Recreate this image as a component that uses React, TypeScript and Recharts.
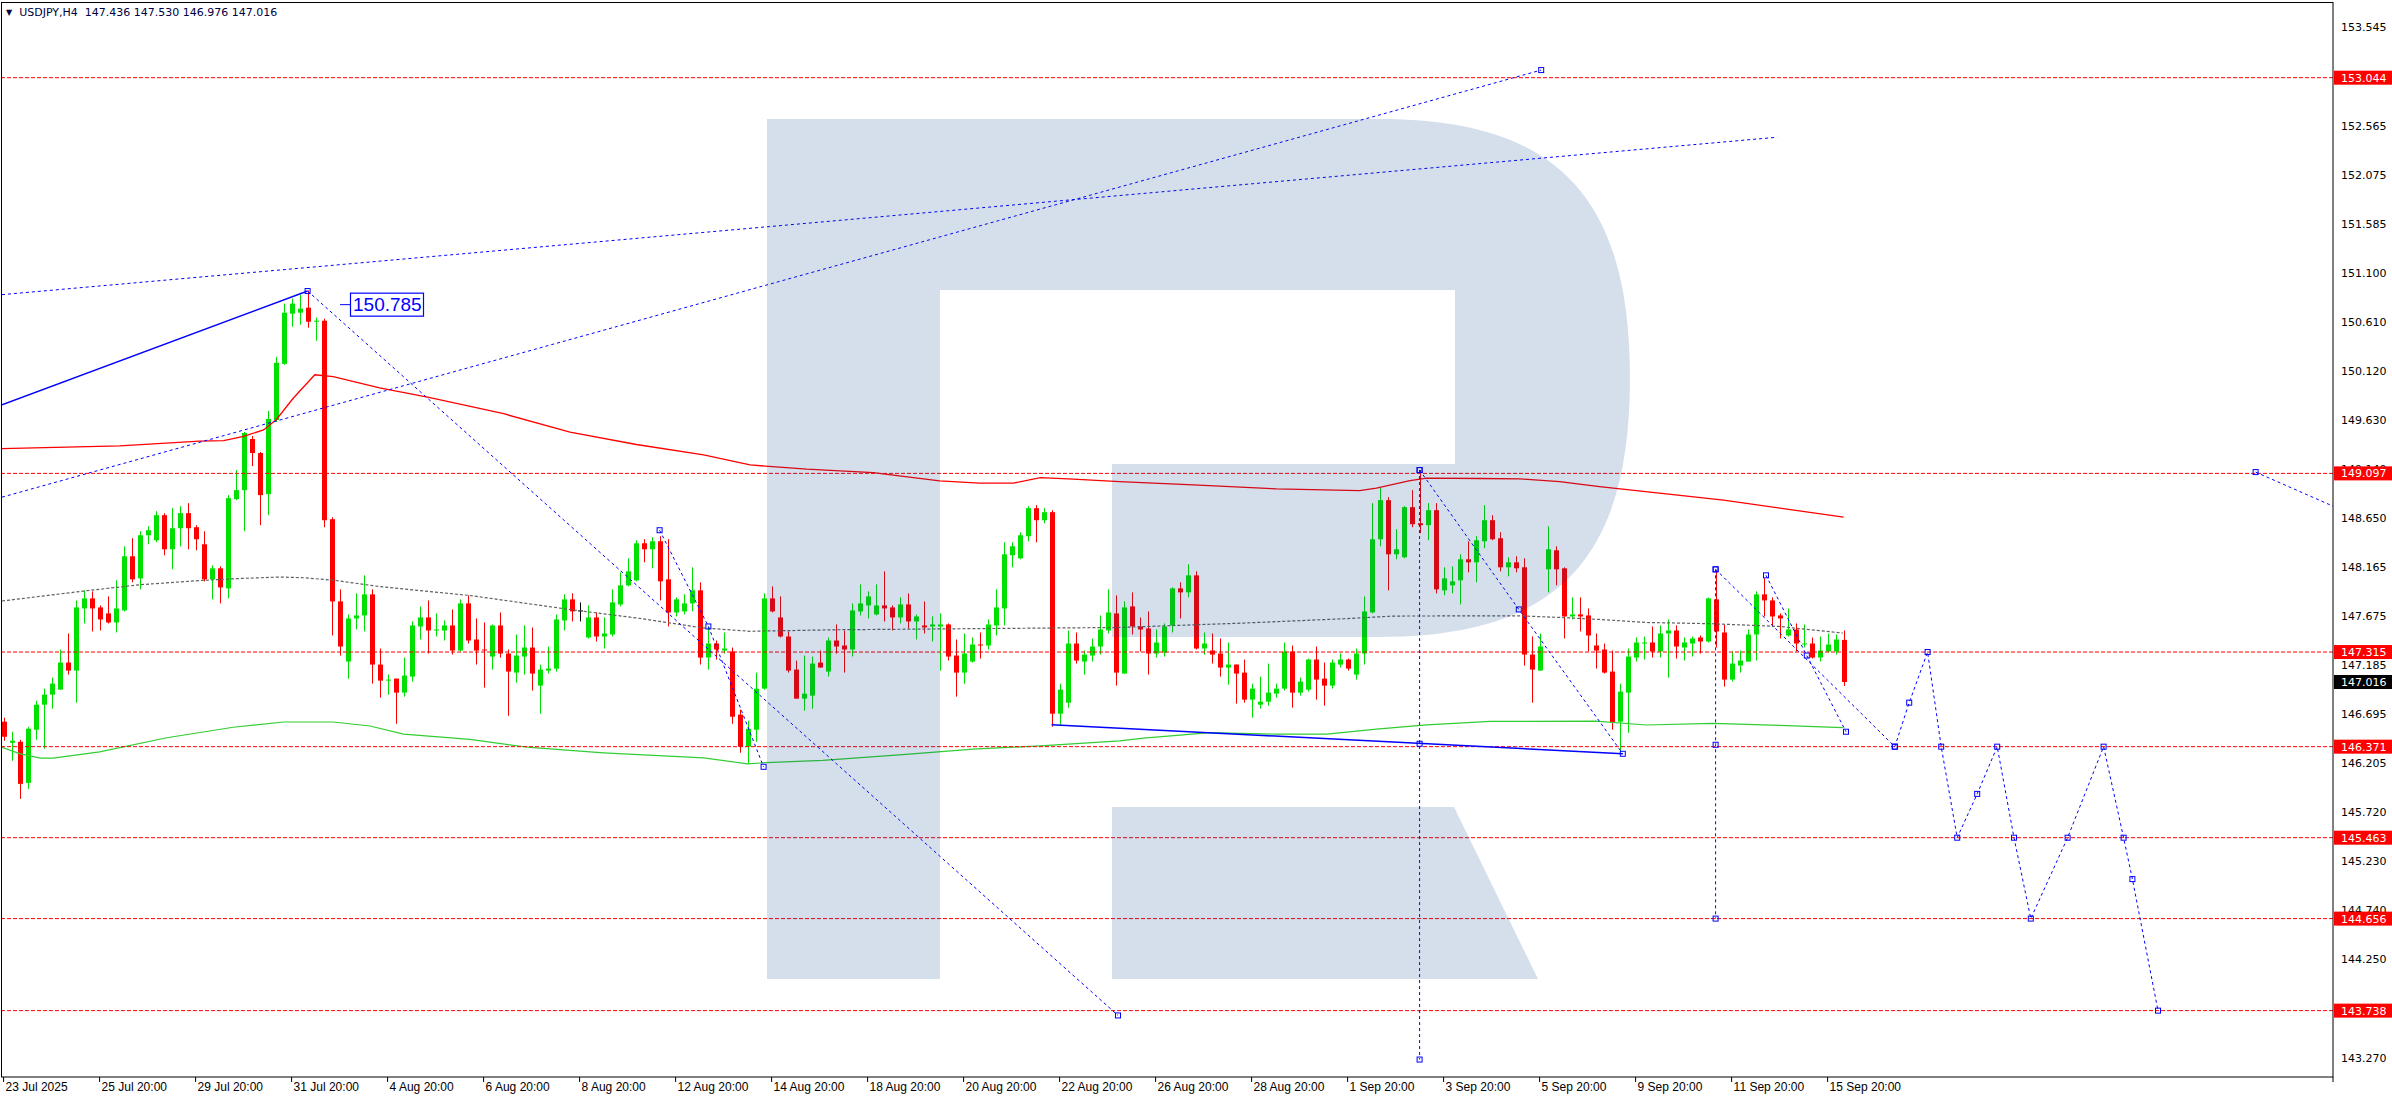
import React from "react";
import {
  Bar,
  ComposedChart,
  Line,
  ReferenceDot,
  ReferenceLine,
  XAxis,
  YAxis
} from "recharts";

const W = 2392;
const H = 1100;
const BULL = "#00e000";
const BEAR = "#ff0000";
const BLUE = "#0000ff";

// H4 candles, bar index 0 = 23 Jul 20:00
const opens = [
  146.62, 146.41, 146.42, 146.01, 146.54, 146.79, 146.89, 146.94, 147.21, 147.13,
  147.75, 147.85, 147.76, 147.7, 147.61, 147.73, 148.27, 148.05, 148.48, 148.43,
  148.68, 148.34, 148.55, 148.7, 148.56, 148.39, 148.04, 148.15, 147.95, 148.84,
  148.93, 149.44, 149.3, 148.89, 149.63, 150.19, 150.69, 150.7, 150.75, 150.61,
  150.62, 148.64, 147.82, 147.22, 147.65, 147.68, 147.89, 147.19, 147.03, 147.05,
  146.91, 147.07, 147.57, 147.66, 147.53, 147.53, 147.58, 147.33, 147.8, 147.44,
  147.34, 147.27, 147.58, 147.3, 147.11, 147.27, 147.36, 146.98, 147.13, 147.15,
  147.63, 147.84, 147.73, 147.46, 147.66, 147.47, 147.49, 147.79, 147.98, 148.03,
  148.4, 148.34, 148.42, 148.04, 147.71, 147.72, 147.8, 147.93, 147.26, 147.4,
  147.33, 147.32, 146.69, 146.37, 146.54, 146.95, 147.85, 147.66, 147.47, 147.14,
  146.85, 146.88, 147.21, 147.12, 147.43, 147.38, 147.34, 147.72, 147.78, 147.69,
  147.78, 147.76, 147.66, 147.79, 147.62, 147.58, 147.57, 147.57, 147.59, 147.28,
  147.11, 147.22, 147.39, 147.38, 147.58, 147.75, 148.28, 148.25, 148.47, 148.75,
  148.63, 148.71, 146.7, 146.81, 147.4, 147.22, 147.28, 147.37, 147.53, 147.7,
  147.1, 147.77, 147.57, 147.55, 147.3, 147.31, 147.58, 147.95, 147.91, 148.08,
  147.35, 147.33, 147.3, 147.16, 147.19, 147.11, 146.84, 146.79, 146.82, 146.9,
  146.95, 147.32, 146.91, 146.94, 147.24, 147.05, 146.98, 147.19, 147.24, 147.09,
  147.3, 147.71, 148.44, 148.83, 148.29, 148.26, 148.76, 148.6, 148.58, 148.73,
  147.93, 147.98, 148.03, 148.24, 148.21, 148.42, 148.63, 148.45, 148.16, 148.21,
  148.16, 147.29, 147.13, 148.14, 148.33, 148.15, 147.67, 147.69, 147.68, 147.38,
  147.34, 147.12, 146.62, 146.91, 147.26, 147.4, 147.41, 147.32, 147.5, 147.53,
  147.36, 147.4, 147.46, 147.42, 147.84, 147.51, 147.04, 147.18, 147.22, 147.49,
  147.89, 147.83, 147.68, 147.48, 147.54, 147.39, 147.4, 147.26, 147.32, 147.32,
  147.436
];
const highs = [
  146.66, 146.52, 146.44, 146.57, 146.83, 146.95, 147.06, 147.34, 147.5, 147.83,
  147.93, 147.92, 147.78, 147.87, 148.03, 148.37, 148.45, 148.52, 148.57, 148.72,
  148.7, 148.75, 148.77, 148.8, 148.58, 148.52, 148.18, 148.17, 148.88, 149.13,
  149.51, 149.47, 149.31, 149.72, 150.26, 150.79, 150.84, 150.88, 150.92, 150.65,
  150.64, 148.66, 147.94, 147.69, 147.9, 148.08, 147.94, 147.35, 147.09, 147.05,
  147.26, 147.62, 147.77, 147.83, 147.7, 147.63, 147.74, 147.84, 147.88, 147.65,
  147.61, 147.59, 147.71, 147.34, 147.49, 147.58, 147.56, 147.19, 147.37, 147.69,
  147.89, 147.9, 147.81, 147.78, 147.71, 147.66, 147.94, 148.11, 148.25, 148.43,
  148.44, 148.46, 148.47, 148.44, 147.86, 147.89, 148.16, 148.01, 147.57, 147.43,
  147.51, 147.36, 146.74, 146.63, 147.11, 147.9, 147.97, 147.87, 147.52, 147.23,
  147.28, 147.27, 147.33, 147.46, 147.59, 147.53, 147.8, 147.99, 147.92, 147.99,
  148.12, 147.78, 147.86, 147.9, 147.69, 147.82, 147.67, 147.7, 147.6, 147.44,
  147.5, 147.46, 147.51, 147.64, 147.94, 148.41, 148.41, 148.51, 148.77, 148.78,
  148.75, 148.73, 147.0, 147.53, 147.51, 147.33, 147.45, 147.68, 147.94, 147.88,
  147.82, 147.91, 147.66, 147.72, 147.54, 147.6, 147.96, 148.01, 148.19, 148.12,
  147.51, 147.5, 147.45, 147.41, 147.19, 147.24, 147.0, 147.07, 147.2, 147.0,
  147.41, 147.38, 147.06, 147.25, 147.37, 147.21, 147.24, 147.3, 147.25, 147.35,
  147.87, 148.8, 148.95, 148.86, 148.54, 148.77, 148.93, 149.13, 148.8, 148.8,
  148.16, 148.17, 148.29, 148.42, 148.47, 148.78, 148.68, 148.51, 148.26, 148.27,
  148.25, 147.47, 147.5, 148.57, 148.37, 148.16, 147.86, 147.86, 147.75, 147.5,
  147.4, 147.33, 147.0, 147.35, 147.46, 147.47, 147.57, 147.58, 147.64, 147.58,
  147.46, 147.47, 147.48, 147.86, 148.13, 147.59, 147.32, 147.33, 147.54, 147.92,
  148.05, 147.86, 147.7, 147.75, 147.6, 147.59, 147.46, 147.47, 147.5, 147.49,
  147.53
];
const lows = [
  146.43, 146.23, 145.85, 145.95, 146.44, 146.35, 146.75, 146.94, 147.09, 146.81,
  147.6, 147.52, 147.53, 147.6, 147.51, 147.72, 148.01, 147.94, 148.39, 148.41,
  148.28, 148.14, 148.37, 148.34, 148.33, 148.02, 147.84, 147.8, 147.85, 148.83,
  148.52, 149.17, 148.58, 148.68, 149.61, 150.18, 150.56, 150.58, 150.55, 150.42,
  148.56, 147.48, 147.28, 147.05, 147.54, 147.52, 147.0, 146.86, 146.89, 146.6,
  146.87, 147.02, 147.44, 147.3, 147.47, 147.43, 147.29, 147.32, 147.4, 147.19,
  146.96, 147.14, 147.26, 146.68, 147.01, 147.09, 146.93, 146.7, 147.1, 147.12,
  147.53, 147.62, 147.62, 147.45, 147.42, 147.35, 147.47, 147.77, 147.97, 148.02,
  148.21, 148.15, 147.83, 147.57, 147.67, 147.69, 147.72, 147.19, 147.14, 147.24,
  147.3, 146.6, 146.31, 146.2, 146.42, 146.94, 147.71, 147.46, 147.11, 146.85,
  146.73, 146.75, 147.16, 147.07, 147.3, 147.11, 147.27, 147.68, 147.65, 147.68,
  147.62, 147.53, 147.6, 147.55, 147.44, 147.5, 147.42, 147.13, 147.23, 146.87,
  147.0, 147.21, 147.25, 147.34, 147.48, 147.58, 148.16, 148.24, 148.42, 148.41,
  148.6, 146.57, 146.58, 146.76, 147.2, 147.09, 147.22, 147.29, 147.5, 146.98,
  147.1, 147.49, 147.32, 147.09, 147.26, 147.27, 147.51, 147.65, 147.86, 147.34,
  147.29, 147.2, 147.07, 146.99, 146.8, 146.81, 146.66, 146.75, 146.78, 146.86,
  146.93, 146.76, 146.88, 146.92, 146.84, 146.78, 146.95, 147.16, 147.13, 147.04,
  147.19, 147.7, 148.37, 147.93, 148.24, 148.25, 148.56, 148.5, 148.43, 147.9,
  147.88, 147.9, 147.79, 148.11, 148.01, 148.35, 148.43, 148.12, 148.07, 148.11,
  147.18, 146.81, 147.13, 147.91, 147.98, 147.45, 147.64, 147.52, 147.32, 147.15,
  147.1, 146.54, 146.32, 146.51, 147.22, 147.24, 147.26, 147.26, 147.06, 147.25,
  147.23, 147.27, 147.3, 147.41, 147.36, 146.97, 147.02, 147.11, 147.22, 147.23,
  147.67, 147.57, 147.45, 147.47, 147.32, 147.36, 147.25, 147.22, 147.31, 147.29,
  146.976
];
const closes = [
  146.47, 146.43, 146.0, 146.55, 146.79, 146.89, 147.0, 147.21, 147.13, 147.76,
  147.85, 147.75, 147.64, 147.61, 147.75, 148.27, 148.04, 148.48, 148.53, 148.68,
  148.34, 148.55, 148.7, 148.55, 148.44, 148.04, 148.15, 147.96, 148.85, 148.93,
  149.5, 149.3, 148.88, 149.64, 150.2, 150.7, 150.79, 150.74, 150.61, 150.62,
  148.63, 147.82, 147.37, 147.65, 147.68, 147.89, 147.19, 147.03, 147.04, 146.91,
  147.08, 147.58, 147.66, 147.53, 147.54, 147.58, 147.33, 147.8, 147.43, 147.33,
  147.33, 147.58, 147.3, 147.12, 147.28, 147.36, 147.1, 147.14, 147.15, 147.64,
  147.84, 147.72, 147.73, 147.66, 147.47, 147.5, 147.81, 147.98, 148.12, 148.4,
  148.34, 148.42, 148.02, 147.71, 147.84, 147.8, 147.93, 147.26, 147.4, 147.34,
  147.35, 146.67, 146.37, 146.55, 146.95, 147.85, 147.72, 147.47, 147.13, 146.85,
  146.9, 147.2, 147.16, 147.43, 147.37, 147.34, 147.73, 147.8, 147.87, 147.78,
  147.75, 147.66, 147.79, 147.62, 147.67, 147.56, 147.59, 147.59, 147.27, 147.11,
  147.3, 147.39, 147.38, 147.59, 147.76, 148.29, 148.37, 148.48, 148.75, 148.63,
  148.71, 146.7, 146.94, 147.4, 147.23, 147.29, 147.37, 147.54, 147.71, 147.11,
  147.76, 147.57, 147.54, 147.3, 147.41, 147.57, 147.95, 147.91, 148.08, 147.35,
  147.4, 147.29, 147.16, 147.19, 147.1, 146.84, 146.95, 146.82, 146.91, 146.95,
  147.32, 146.91, 147.02, 147.24, 147.04, 146.98, 147.21, 147.24, 147.15, 147.3,
  147.72, 148.44, 148.83, 148.29, 148.34, 148.76, 148.59, 148.58, 148.73, 147.94,
  148.05, 148.02, 148.24, 148.21, 148.43, 148.63, 148.44, 148.16, 148.21, 148.15,
  147.29, 147.14, 147.37, 148.34, 148.14, 147.67, 147.69, 147.67, 147.48, 147.33,
  147.11, 146.61, 146.92, 147.27, 147.41, 147.41, 147.32, 147.5, 147.53, 147.37,
  147.41, 147.45, 147.42, 147.85, 147.52, 147.04, 147.2, 147.23, 147.49, 147.89,
  147.83, 147.67, 147.65, 147.54, 147.4, 147.4, 147.26, 147.33, 147.39, 147.44,
  147.016
];

const timeTicks = [0, 12, 24, 36, 48, 60, 72, 84, 96, 108, 120, 132, 144, 156, 168, 180, 192, 204, 216, 228];
const timeLabels = [
  "23 Jul 2025", "25 Jul 20:00", "29 Jul 20:00", "31 Jul 20:00", "4 Aug 20:00",
  "6 Aug 20:00", "8 Aug 20:00", "12 Aug 20:00", "14 Aug 20:00", "18 Aug 20:00",
  "20 Aug 20:00", "22 Aug 20:00", "26 Aug 20:00", "28 Aug 20:00", "1 Sep 20:00",
  "3 Sep 20:00", "5 Sep 20:00", "9 Sep 20:00", "11 Sep 20:00", "15 Sep 20:00"
];
const priceTicks = [
  153.545, 152.565, 152.075, 151.585, 151.1, 150.61, 150.12, 149.63, 149.14,
  148.65, 148.165, 147.675, 147.185, 146.695, 146.205, 145.72, 145.23, 144.74,
  144.25, 143.76, 143.27
];
const levels = [153.044, 149.097, 147.315, 146.371, 145.463, 144.656, 143.738];
const lastPrice = 147.016;
const peakLabel = 150.785;

// moving averages, [bar index, price]
const redMA = [
  [-0.2, 149.344], [14.5, 149.372], [24.5, 149.418], [27.5, 149.424], [30, 149.467],
  [32.5, 149.53], [34.1, 149.635], [36.2, 149.846], [38.9, 150.081], [41.2, 150.063],
  [47, 149.951], [53.3, 149.852], [62.5, 149.692], [70.8, 149.508], [79.1, 149.385],
  [87.5, 149.281], [93.3, 149.181], [100.4, 149.139], [108.7, 149.105], [117, 149.022],
  [122, 148.999], [126.2, 148.999], [129.6, 149.055], [133.7, 149.039], [139.5, 149.015],
  [148.7, 148.982], [159.1, 148.942], [169.5, 148.925], [171.6, 148.949], [175.8, 149.025],
  [177.9, 149.049], [184.5, 149.046], [189.6, 149.042], [194.5, 149.015], [199.5, 148.965],
  [215, 148.83], [230, 148.66]
];
const grayMA = [
  [-0.2, 147.824], [10, 147.923], [17, 147.986], [24.5, 148.028], [29.6, 148.049],
  [34.6, 148.063], [37.5, 148.056], [41.2, 148.032], [47, 147.968], [58.3, 147.879],
  [70.8, 147.739], [79.1, 147.655], [87.5, 147.555], [93.3, 147.522], [104, 147.537],
  [139.5, 147.56], [155, 147.604], [167.5, 147.647], [173.8, 147.674], [189.6, 147.676],
  [194.5, 147.66], [199.5, 147.64], [205.3, 147.61], [213.7, 147.597], [222, 147.57],
  [229.9, 147.504]
];
const greenMA = [
  [-0.2, 146.365], [2, 146.302], [4.6, 146.256], [6.2, 146.256], [12, 146.319],
  [20.4, 146.46], [28.7, 146.565], [35, 146.617], [41.2, 146.617], [45.8, 146.577],
  [50, 146.497], [58.3, 146.443], [65.8, 146.363], [75, 146.31], [87.5, 146.26],
  [93, 146.2], [95.3, 146.212], [102.4, 146.235], [112.8, 146.295], [121.2, 146.346],
  [129.6, 146.379], [139.5, 146.429], [142.5, 146.456], [150.8, 146.512], [159.1, 146.496],
  [165.4, 146.496], [171.6, 146.546], [177.9, 146.589], [185.8, 146.623], [199, 146.626],
  [205.3, 146.587], [213.7, 146.603], [222, 146.583], [229.9, 146.56]
];

// drawn trend lines and the wave forecast, [bar index, price]
const trendLines = [
  { solid: true, marks: false, pts: [[-0.2, 149.78], [38, 150.916]] },
  { solid: false, marks: true, pts: [[-0.2, 148.86], [192.2, 153.12]] },
  { solid: false, marks: false, pts: [[-0.2, 150.88], [221.7, 152.45]] },
  { solid: false, marks: true, pts: [[38, 150.916], [139.3, 143.69]] },
  { solid: false, marks: true, pts: [[82, 148.53], [88.1, 147.57], [95, 146.17]] },
  { solid: true, marks: false, pts: [[131, 146.59], [202.4, 146.3]] },
  { solid: false, marks: true, pts: [[177, 149.13], [177, 146.4], [177, 143.25]] },
  { solid: false, marks: true, pts: [[177, 149.13], [189.4, 147.74], [202.4, 146.3]] },
  { solid: false, marks: true, pts: [[214, 148.14], [214, 146.39], [214, 144.656]] },
  { solid: false, marks: true, pts: [[214, 148.14], [236.4, 146.371]] },
  { solid: false, marks: true, pts: [[220.3, 148.08], [225.4, 147.28], [230.3, 146.52]] },
  {
    solid: false,
    marks: true,
    pts: [
      [236.4, 146.371], [238.2, 146.81], [240.5, 147.315], [242.2, 146.371], [244.2, 145.463],
      [246.7, 145.9], [249.2, 146.371], [251.3, 145.463], [253.4, 144.656], [258, 145.463],
      [262.5, 146.371], [265, 145.463], [266.1, 145.05], [269.3, 143.738]
    ]
  },
  { solid: false, marks: true, pts: [[281.5, 149.11], [291.175, 148.77]] }
];

const X_DOMAIN = [-0.2, 291.175];
const Y_DOMAIN = [143.076, 153.789];

const toPts = (arr: number[][]) => arr.map(([i, v]) => ({ i, v }));

const Candle = (props: any) => {
  const { x, y, width, height, payload } = props;
  if (x == null || y == null) return <g />;
  const { o, h, l, c } = payload;
  const cx = Math.round(x + width / 2) + 0.5;
  const py = (p: number) => y + ((h - p) / (h - l || 1)) * height;
  const color = c > o ? BULL : c < o ? BEAR : "#000";
  const top = py(Math.max(o, c));
  const bot = py(Math.min(o, c));
  return (
    <g>
      <line x1={cx} x2={cx} y1={y} y2={y + height} stroke={color} strokeWidth={1} />
      <rect x={cx - 2.5} y={top} width={5} height={Math.max(1, bot - top)} fill={color} />
    </g>
  );
};

const Square = (props: any) => {
  const { cx, cy, index, payload } = props;
  if (cx == null || payload.i <= 0 || payload.i >= 291) return <g key={index} />;
  return (
    <rect key={index} x={cx - 2.5} y={cy - 2.5} width={5} height={5} fill="none" stroke={BLUE} strokeWidth={1} />
  );
};

// price scale text, drawn in the same layer as the tags so the tags sit on top
const ScaleText = (props: any) => {
  const { viewBox, text } = props;
  const x = viewBox.x + viewBox.width;
  return (
    <text x={x + 8} y={viewBox.y + 4} fontSize={11} fontFamily="DejaVu Sans" fill="#000">
      {text}
    </text>
  );
};

const PriceTag = (props: any) => {
  const { viewBox, text, bg } = props;
  const x = viewBox.x + viewBox.width;
  const y = viewBox.y;
  return (
    <g>
      <rect x={x + 1} y={y - 7} width={58} height={14} fill={bg} />
      <text x={x + 8} y={y + 4} fill="#fff" fontSize={11} fontFamily="DejaVu Sans">
        {text}
      </text>
    </g>
  );
};

const PeakBox = (props: any) => {
  const { cx, cy } = props;
  if (cx == null) return <g />;
  return (
    <g>
      <line x1={cx - 10} x2={cx} y1={cy + 0.5} y2={cy + 0.5} stroke={BLUE} />
      <rect x={cx + 0.5} y={cy - 11} width={73} height={23} fill="#fff" stroke={BLUE} strokeWidth={1.2} />
      <text x={cx + 3} y={cy + 7} fill={BLUE} fontSize={19} fontFamily="Liberation Sans">
        {peakLabel.toFixed(3)}
      </text>
    </g>
  );
};

const XTick = (props: any) => {
  const { x, y, payload } = props;
  const k = timeTicks.indexOf(payload.value);
  return (
    <text x={x + 2} y={y + 7} fontSize={12} fontFamily="Liberation Sans" fill="#000" textAnchor="start">
      {k >= 0 ? timeLabels[k] : ""}
    </text>
  );
};

export default function App() {
  const data = opens.map((o, i) => ({ i, o, h: highs[i], l: lows[i], c: closes[i] }));

  return (
    <div style={{ position: "absolute", left: 0, top: 0, width: W, height: H, background: "#fff" }}>
      <ComposedChart width={W} height={H} data={data} margin={{ top: 3, right: 0, bottom: 0, left: 2 }}>
        <XAxis
          dataKey="i"
          type="number"
          domain={X_DOMAIN}
          allowDataOverflow
          ticks={timeTicks}
          interval={0}
          height={23}
          axisLine={false}
          tickLine={{ stroke: "#000" }}
          tickSize={5}
          tick={<XTick />}
        />
        <YAxis
          orientation="right"
          type="number"
          domain={Y_DOMAIN}
          allowDataOverflow
          ticks={priceTicks}
          interval={0}
          width={59}
          axisLine={false}
          tickLine={false}
          tick={false}
        />

        <Line data={toPts(redMA)} dataKey="v" type="linear" stroke="#ff0000" strokeWidth={1.3} dot={false} isAnimationActive={false} />
        <Line data={toPts(grayMA)} dataKey="v" type="linear" stroke="#606060" strokeWidth={1.2} strokeDasharray="3 2" dot={false} isAnimationActive={false} />
        <Line data={toPts(greenMA)} dataKey="v" type="linear" stroke="#32cd32" strokeWidth={1.2} dot={false} isAnimationActive={false} />

        {priceTicks.map((p) => (
          <ReferenceLine key={"s" + p} y={p} stroke="none" label={<ScaleText text={p.toFixed(3)} />} />
        ))}

        {levels.map((p) => (
          <ReferenceLine
            key={p}
            y={p}
            stroke="#ff0000"
            strokeDasharray="4 2"
            label={<PriceTag text={p.toFixed(3)} bg="#ff0000" />}
          />
        ))}
        <ReferenceLine y={lastPrice} stroke="none" label={<PriceTag text={lastPrice.toFixed(3)} bg="#000" />} />

        <Bar dataKey={(d: any) => [d.l, d.h]} barSize={5} shape={<Candle />} isAnimationActive={false} />

        {trendLines.map((t, k) => (
          <Line
            key={"t" + k}
            data={toPts(t.pts)}
            dataKey="v"
            type="linear"
            stroke={BLUE}
            strokeWidth={t.solid ? 1.5 : 1}
            strokeDasharray={t.solid ? undefined : "3 3"}
            dot={t.marks ? Square : false}
            isAnimationActive={false}
          />
        ))}

        <ReferenceDot x={43.3} y={peakLabel} r={0} shape={<PeakBox />} />
      </ComposedChart>

      <svg width={W} height={H} style={{ position: "absolute", left: 0, top: 0, pointerEvents: "none" }}>
        <g fill="#003d86" fillOpacity={0.165}>
          <path d="M767 979 L767 119 L1380 119 C1560 119 1630 200 1630 378 C1630 556 1560 637 1380 637 L1112 637 L1112 464 L1455 464 L1455 290 L940 290 L940 979 Z" />
          <path d="M1112 807 L1454 807 L1538 979 L1112 979 Z" />
        </g>
        <rect x={1.5} y={2.5} width={2331.5} height={1074.5} fill="none" stroke="#000" strokeWidth={1} />
        <line x1={2333} x2={2333} y1={1077} y2={1082} stroke="#000" />
      </svg>

      <div
        style={{
          position: "absolute",
          left: 6,
          top: 7,
          fontFamily: "DejaVu Sans",
          fontSize: 11,
          color: "#000040",
          whiteSpace: "pre",
          lineHeight: "12px"
        }}
      >
        <span style={{ fontSize: 8, verticalAlign: "1px" }}>▼</span>
        {"  USDJPY,H4  147.436 147.530 146.976 147.016"}
      </div>
    </div>
  );
}
